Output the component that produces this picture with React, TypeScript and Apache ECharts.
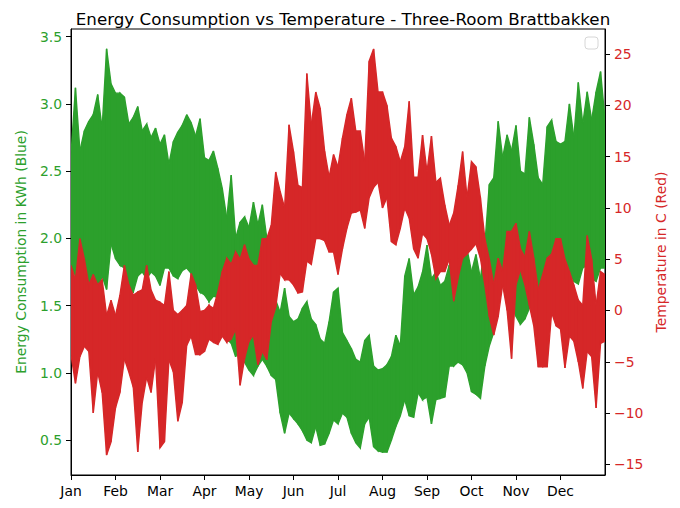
import React, { useEffect, useRef } from "react";
import * as echarts from "echarts";

const monthLabels = ["Jan", "Feb", "Mar", "Apr", "May", "Jun", "Jul", "Aug", "Sep", "Oct", "Nov", "Dec"];
const monthTicks = [0, 1, 2, 3, 4, 5, 6, 7, 8, 9, 10, 11];
const energyTicks = [0.5, 1.0, 1.5, 2.0, 2.5, 3.0, 3.5];
const tempTicks = [-15, -10, -5, 0, 5, 10, 15, 20, 25];

// Envelope of the hourly series, sampled every 0.1 month (Jan 1 = 0 ... Dec 31 = 12)
const energyHigh = [
  2.62, 3.12, 2.65, 2.80, 2.87, 2.92, 3.07, 2.82, 3.41, 3.15,
  3.08, 3.08, 3.05, 2.85, 2.90, 2.98, 2.80, 2.85, 2.75, 2.82,
  2.70, 2.77, 2.55, 2.72, 2.79, 2.84, 2.92, 2.86, 2.76, 2.89,
  2.60, 2.58, 2.65, 2.52, 2.37, 2.15, 2.47, 2.00, 2.12, 2.16,
  2.08, 2.27, 2.10, 2.25, 2.00, 1.90, 1.54, 1.45, 1.63, 1.42,
  1.38, 1.40, 1.48, 1.53, 1.40, 1.36, 1.25, 1.22, 1.38, 1.60,
  1.63, 1.30, 1.24, 1.18, 1.10, 1.08, 1.24, 1.28, 1.05, 1.02,
  1.03, 1.06, 1.12, 1.28, 1.20, 1.72, 1.85, 1.58, 1.64, 1.75,
  1.95, 1.70, 1.75, 1.65, 1.68, 1.80, 1.85, 2.30, 1.90, 1.92,
  1.75, 1.88, 1.70, 1.95, 2.40, 2.45, 2.87, 2.60, 2.77, 2.65,
  2.84, 2.50, 2.48, 2.90, 2.70, 2.45, 2.40, 2.83, 2.88, 2.72,
  2.70, 2.72, 3.00, 2.75, 3.16, 2.85, 3.09, 2.88, 3.09, 3.24,
  2.88,
];
const energyLow = [
  1.80, 1.72, 1.62, 1.60, 1.62, 1.66, 1.63, 1.72, 1.62, 1.96,
  1.85, 1.80, 1.78, 1.62, 1.60, 1.72, 1.75, 1.70, 1.75, 1.72,
  1.65, 1.78, 1.78, 1.72, 1.70, 1.76, 1.78, 1.74, 1.65, 1.60,
  1.58, 1.53, 1.57, 1.56, 1.52, 1.25, 1.22, 1.12, 1.20, 1.08,
  1.02, 0.98, 1.05, 1.10, 1.05, 0.98, 0.95, 0.70, 0.55, 0.70,
  0.66, 0.62, 0.57, 0.50, 0.48, 0.60, 0.46, 0.47, 0.55, 0.65,
  0.62, 0.70, 0.67, 0.55, 0.48, 0.44, 0.62, 0.67, 0.45, 0.42,
  0.41, 0.41, 0.50, 0.60, 0.68, 0.80, 0.68, 0.67, 0.85, 0.80,
  0.82, 0.62, 0.80, 0.81, 0.82, 1.05, 1.05, 1.08, 1.06, 1.00,
  0.86, 0.84, 0.81, 1.05, 1.20, 1.30, 1.60, 1.68, 1.72, 1.55,
  1.42, 1.36, 1.40, 1.48, 1.58, 1.55, 1.62, 1.68, 1.72, 1.78,
  1.72, 1.70, 1.76, 1.68, 1.66, 1.78, 1.80, 1.70, 1.68, 1.78,
  1.78,
];
const tempHigh = [
  4.4, 3.0, 7.0, 5.0, 2.5, 3.5, 2.5, 3.0, -0.5, 1.0,
  -0.5, 1.5, 4.4, 2.5, 1.5, 1.8, 2.0, 4.4, 2.0, 1.0,
  0.8, 0.5, 3.8, 0.0, -0.4, 0.0, 0.5, 3.6, 2.5, -0.1,
  0.0, 0.5, 0.2, 1.8, 3.8, 5.1, 4.5, 5.7, 5.0, 6.4,
  5.0, 4.4, 4.4, 7.0, 7.0, 8.3, 13.5, 11.6, 10.0, 18.1,
  15.5, 12.2, 12.0, 23.1, 18.1, 21.3, 19.7, 15.5, 13.0, 15.2,
  14.0, 16.8, 19.1, 20.7, 17.5, 17.5, 14.5, 24.3, 25.5, 21.3,
  21.3, 20.0, 16.8, 16.0, 14.5, 16.0, 20.4, 13.0, 13.0, 17.1,
  13.5, 17.0, 12.5, 12.9, 10.3, 8.3, 9.5, 12.2, 15.5, 11.0,
  14.5, 14.0, 11.0, 7.0, 5.0, 2.5, 5.1, 3.8, 7.7, 7.7,
  8.5, 6.0, 5.2, 7.7, 5.1, 2.0, 3.5, 5.1, 5.5, 7.0,
  7.0, 5.0, 3.8, 2.5, 1.0, 0.5, 7.3, 5.0, 0.5, 3.8,
  3.5,
];
const tempLow = [
  -4.3, -7.1, -4.5, -3.5, -4.0, -10.0, -6.0, -8.0, -14.1, -12.8,
  -9.5, -8.0, -4.7, -6.0, -7.5, -13.8, -9.0, -6.5, -8.0, -4.7,
  -13.4, -12.8, -4.8, -6.0, -10.8, -9.0, -3.4, -2.5, -4.3, -4.3,
  -4.0, -2.8, -3.1, -3.3, -2.5, -3.1, -2.8, -1.8, -7.3, -4.7,
  -3.0, -2.4, -5.3, -4.0, -4.8, -1.1, 0.3, 3.6, 3.0, 3.0,
  2.5, 1.7, 1.8, 4.8, 4.5, 7.0, 7.0, 6.8, 5.7, 5.7,
  3.5, 6.0, 8.0, 9.5, 9.6, 9.8, 8.0, 11.0, 12.0, 12.5,
  10.0, 11.0, 6.7, 6.4, 8.0, 10.0, 9.0, 6.0, 5.1, 7.5,
  7.0, 5.5, 3.1, 3.8, 3.8, 5.0, 0.9, 3.2, 5.1, 5.5,
  6.0, 6.5, 5.1, 2.5, -0.6, -2.4, -0.6, 2.5, 0.0, -4.7,
  2.5, 4.0, 2.5, 0.5, -1.5, -5.5, -5.5, -5.5, -0.2, -1.5,
  -1.8, -5.6, -2.5, -3.0, -5.0, -7.6, -4.0, -4.5, -9.5, -3.2,
  -3.0,
];

const GREEN = "#2ca02c";
const RED = "#d62728";
const FONT = "DejaVu Sans";

// segments [x0, lo0, hi0, x1, lo1, hi1]
function segments(lo: number[], hi: number[]) {
  const out: number[][] = [];
  for (let i = 0; i < lo.length - 1; i++) {
    out.push([i / 10, lo[i], hi[i], (i + 1) / 10, lo[i + 1], hi[i + 1]]);
  }
  return out;
}

function bandRenderer(color: string) {
  return (_params: any, api: any) => {
    const a = api.coord([api.value(0), api.value(1)]);
    const b = api.coord([api.value(3), api.value(4)]);
    const c = api.coord([api.value(3), api.value(5)]);
    const d = api.coord([api.value(0), api.value(2)]);
    return {
      type: "polygon",
      shape: { points: [a, b, c, d] },
      style: { fill: color, stroke: color, lineWidth: 1.4, lineJoin: "miter" },
    };
  };
}

export default function App() {
  const ref = useRef<HTMLDivElement>(null);

  useEffect(() => {
    if (!ref.current) return;
    const chart = echarts.init(ref.current, null, { renderer: "svg" });
    const minus = (v: number) => String(v).replace("-", "\u2212");

    chart.setOption({
      animation: false,
      backgroundColor: "#fff",
      title: {
        text: "Energy Consumption vs Temperature - Three-Room Brattbakken",
        left: 338,
        textAlign: "center",
        top: 4,
        textStyle: { fontFamily: FONT, fontSize: 16.7, fontWeight: "normal", color: "#000", lineHeight: 20 },
      },
      grid: {
        left: 71, right: 75, top: 29, bottom: 33,
        show: true, borderColor: "#000", borderWidth: 1, backgroundColor: "transparent",
      },
      xAxis: {
        type: "value", min: 0, max: 12,
        axisLine: { show: true, onZero: false, lineStyle: { color: "#000", width: 1 } },
        axisTick: { show: true, length: 5, customValues: monthTicks, lineStyle: { color: "#000" } },
        axisLabel: {
          customValues: monthTicks, margin: 9,
          formatter: (v: number) => monthLabels[Math.round(v)] ?? "",
          color: "#000", fontFamily: FONT, fontSize: 13.9,
        },
        splitLine: { show: false },
      },
      yAxis: [
        {
          type: "value", min: 0.24, max: 3.557, position: "left",
          name: "Energy Consumption in KWh (Blue)", nameLocation: "middle", nameRotate: 90, nameGap: 43,
          nameTextStyle: { color: GREEN, fontFamily: FONT, fontSize: 13.9 },
          axisLine: { show: true, onZero: false, lineStyle: { color: "#000", width: 1 } },
          axisTick: { show: true, length: 5, customValues: energyTicks, lineStyle: { color: "#000" } },
          axisLabel: {
            customValues: energyTicks, margin: 9, color: GREEN, fontFamily: FONT, fontSize: 13.9,
            formatter: (v: number) => v.toFixed(1),
          },
          splitLine: { show: false },
        },
        {
          type: "value", min: -16.04, max: 27.44, position: "right",
          name: "Temperature in C (Red)", nameLocation: "middle", nameRotate: 90, nameGap: 47,
          nameTextStyle: { color: RED, fontFamily: FONT, fontSize: 13.9 },
          axisLine: { show: true, onZero: false, lineStyle: { color: "#000", width: 1 } },
          axisTick: { show: true, length: 5, customValues: tempTicks, lineStyle: { color: "#000" } },
          axisLabel: {
            customValues: tempTicks, margin: 9, color: RED, fontFamily: FONT, fontSize: 13.9,
            formatter: (v: number) => minus(v),
          },
          splitLine: { show: false },
        },
      ],
      series: [
        {
          type: "custom", yAxisIndex: 0, silent: true, clip: true,
          data: segments(energyLow, energyHigh),
          encode: { x: [0, 3], y: [1, 2, 4, 5] },
          renderItem: bandRenderer(GREEN),
        },
        {
          type: "custom", yAxisIndex: 1, silent: true, clip: true,
          data: segments(tempLow, tempHigh),
          encode: { x: [0, 3], y: [1, 2, 4, 5] },
          renderItem: bandRenderer(RED),
        },
      ],
      graphic: [
        {
          type: "rect", silent: true,
          shape: { x: 585, y: 37, width: 13, height: 12, r: 3 },
          style: { fill: "#fff", stroke: "#d6d6d6", lineWidth: 1 },
        },
      ],
    });
    return () => chart.dispose();
  }, []);

  return <div ref={ref} style={{ position: "fixed", left: 0, top: 0, width: 680, height: 508 }} />;
}
